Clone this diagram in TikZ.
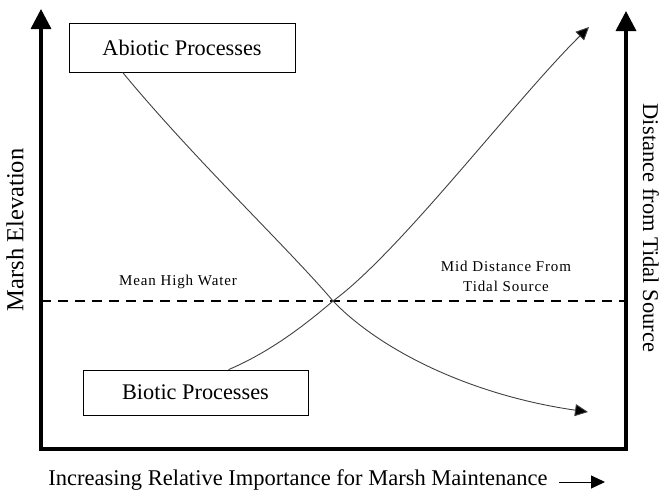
\documentclass[tikz,border=0pt]{standalone}
\usepackage{fontspec}
\setmainfont{Liberation Serif}
\usetikzlibrary{arrows.meta}
\begin{document}
\begin{tikzpicture}[x=1pt,y=-1pt,
  axis/.style={line width=3.5pt,-{Triangle[length=20pt,width=20pt]}},
  frame/.style={line width=3.5pt},
  procbox/.style={draw,line width=0.8pt,inner sep=0pt,font=\fontsize{22.3}{24}\selectfont},
  curve/.style={line width=0.9pt,draw=black!75},
  curvearrow/.style={curve,-{Triangle[length=13pt,width=12pt,fill=black]}},
  smalllabel/.style={font=\fontsize{15}{20}\selectfont\addfontfeature{LetterSpace=6},align=center},
  biglabel/.style={font=\fontsize{22.5}{24}\selectfont}]
\useasboundingbox (0,0) rectangle (662,496);
% axes
\coordinate (bl) at (41,449);
\coordinate (br) at (626,449);
\coordinate (tl) at (41,9);
\coordinate (tr) at (626,11);
\draw[frame] ([xshift=-1.75pt]bl) -- ([xshift=1.75pt]br);
\draw[axis] (bl) -- (tl);
\draw[axis] (br) -- (tr);
% dashed line
\coordinate (dl) at (41,301);
\coordinate (dr) at (626,301);
\draw[line width=2pt,dash pattern=on 10pt off 7pt] (dl) -- (dr);
% boxes
\node[procbox,minimum width=226pt,minimum height=49pt] (abio) at (182,47.5) {Abiotic Processes};
\node[procbox,minimum width=225pt,minimum height=45pt] (bio) at (195.5,392.5) {Biotic Processes};
% curves
\coordinate (cross) at (333,301);
\coordinate (aend) at (588,412);
\coordinate (bend) at (589,27);
\draw[curvearrow] (abio.south west) ++(54,0) coordinate (astart)
  .. controls (195,160) and (290,250) .. (cross)
  .. controls (380,350) and (470,395) .. (aend);
\draw[curvearrow] (bio.north west) ++(146,0) coordinate (bstart)
  .. controls (270,352) and (305,325) .. (cross)
  .. controls (400,252) and (515,100) .. (bend);
% labels
\node[smalllabel] (mhw) at (178,282) {Mean High Water};
\node[smalllabel] (mid) at (506,276) {Mid Distance From\\Tidal Source};
\node[biglabel,font=\fontsize{24.5}{26}\selectfont,rotate=90] (ylab) at (15,230) {Marsh Elevation};
\node[biglabel,font=\fontsize{22.5}{24}\selectfont,rotate=-90] (y2lab) at (651,228) {Distance from Tidal Source};
\node[biglabel] (xlab) at (298,480) {Increasing Relative Importance for Marsh Maintenance};
\coordinate (xa1) at (559,482);
\coordinate (xa2) at (605,482);
\draw[line width=1pt,-{Triangle[length=14pt,width=13pt]}] (xa1) -- (xa2);
\end{tikzpicture}
\end{document}
